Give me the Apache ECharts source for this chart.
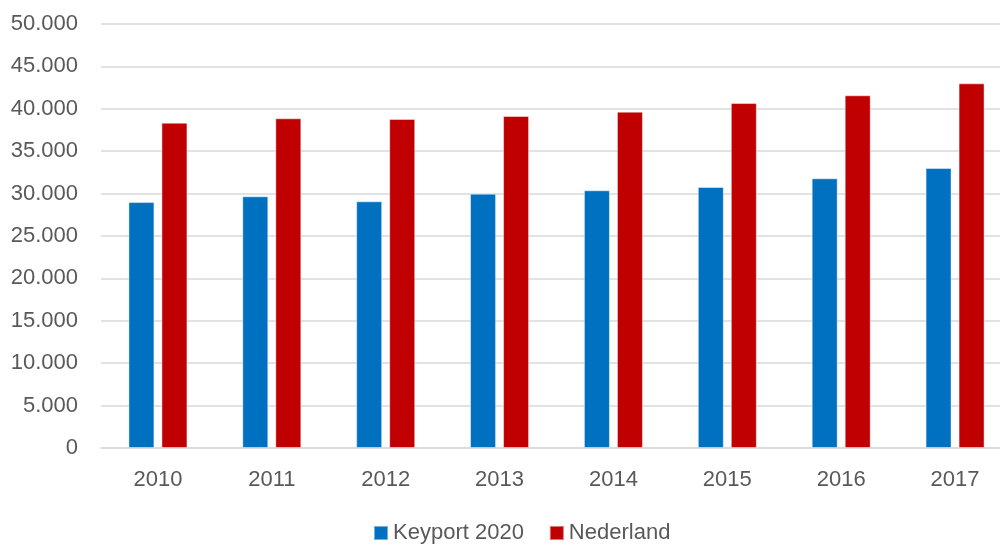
<!DOCTYPE html>
<html>
<head>
<meta charset="utf-8">
<script src="https://cdn.jsdelivr.net/npm/echarts@6/dist/echarts.min.js"></script>
<style>
html,body{margin:0;padding:0;background:#fff;}
#chart{width:1000px;height:545px;}
</style>
</head>
<body>
<div id="chart"></div>
<script>
const categories = ['2010','2011','2012','2013','2014','2015','2016','2017'];
const keyport = [29000, 29680, 29090, 29990, 30390, 30780, 31800, 33020];
const nederland = [38360, 38880, 38800, 39150, 39660, 40680, 41590, 43000];
const seriesNames = ['Keyport 2020', 'Nederland'];

const FONT = '"Liberation Sans", Arial, sans-serif';
const TXT = '#595959';

const chart = echarts.init(document.getElementById('chart'), null, {renderer:'canvas'});
chart.setOption({
  animation: false,
  backgroundColor: '#ffffff',
  textStyle: {fontFamily: FONT},
  grid: {left: 101, width: 911, top: 24, height: 424, containLabel: false, outerBoundsMode: 'none'},
  legend: {
    data: seriesNames,
    top: 517,
    left: 368,
    itemWidth: 14,
    itemHeight: 14,
    itemGap: 25,
    icon: 'rect',
    textStyle: {fontFamily: FONT, fontSize: 22, color: TXT}
  },
  xAxis: {
    type: 'category',
    data: categories,
    axisLine: {show: true, lineStyle: {color: '#d9d9d9', width: 1.5}},
    axisTick: {show: false},
    axisLabel: {fontFamily: FONT, fontSize: 22, color: TXT, margin: 21}
  },
  yAxis: {
    type: 'value',
    min: 0,
    max: 50000,
    interval: 5000,
    axisLine: {show: false},
    axisTick: {show: false},
    splitLine: {lineStyle: {color: '#d9d9d9', width: 1.5}},
    axisLabel: {
      fontFamily: FONT, fontSize: 22, color: TXT, margin: 23,
      formatter: v => String(v).replace(/\B(?=(\d{3})+(?!\d))/g, '.')
    }
  },
  series: [
    {
      name: seriesNames[0], type: 'bar', data: keyport,
      barWidth: 26, barGap: '27%',
      itemStyle: {color: '#0070C0', borderColor: 'rgba(255,255,255,0.45)', borderWidth: 1}
    },
    {
      name: seriesNames[1], type: 'bar', data: nederland,
      barWidth: 26, barGap: '27%',
      itemStyle: {color: '#C00000', borderColor: 'rgba(255,255,255,0.45)', borderWidth: 1}
    }
  ]
});
</script>
</body>
</html>
